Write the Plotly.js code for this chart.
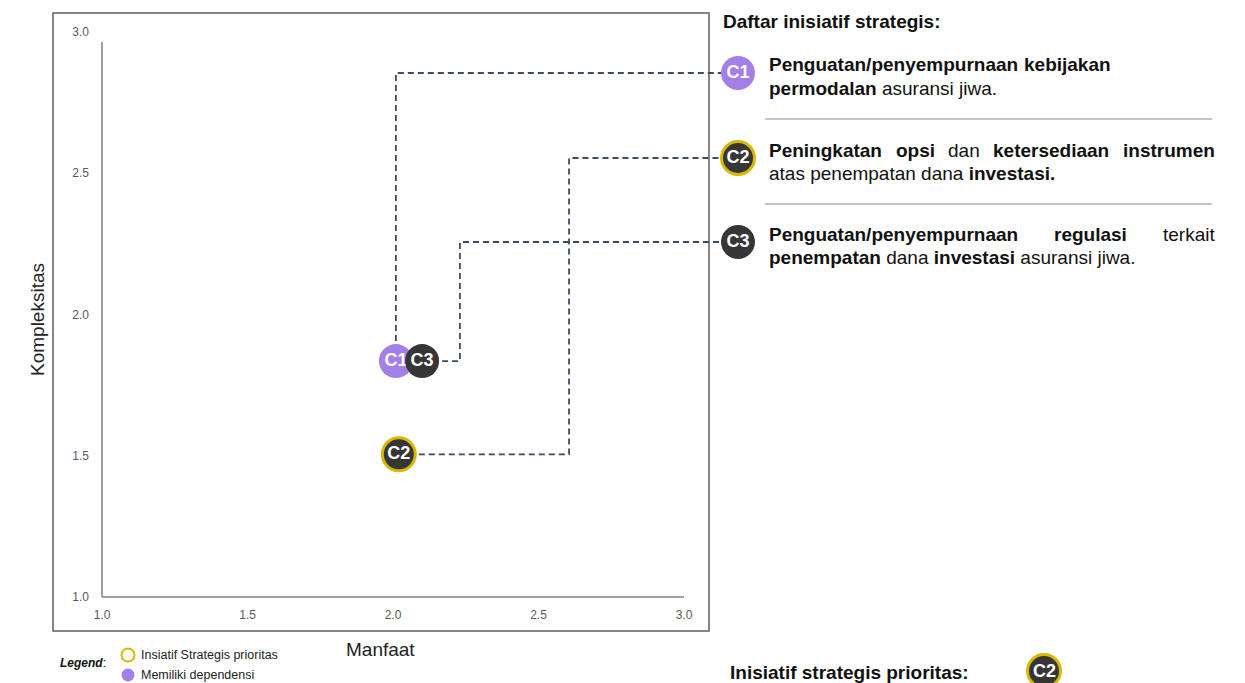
<!DOCTYPE html>
<html>
<head>
<meta charset="utf-8">
<script src="https://cdn.plot.ly/plotly-3.0.1.min.js"></script>
<style>
  html, body { margin: 0; padding: 0; background: #fff; }
  #chart { width: 1245px; height: 683px; }
</style>
</head>
<body>
<div id="chart"></div>
<script>
// ---------------- DATA ----------------
const ids = ['C1', 'C2', 'C3'];
const manfaat = [2.01, 2.02, 2.10];        // x: Manfaat
const kompleksitas = [1.835, 1.505, 1.835]; // y: Kompleksitas
const isPriority = [false, true, false];
const hasDependency = [true, false, false];
const xTickVals = [1.0, 1.5, 2.0, 2.5, 3.0];
const xTickText = ['1.0', '1.5', '2.0', '2.5', '3.0'];
const yTickVals = [1.0, 1.5, 2.0, 2.5, 3.0];
const yTickText = ['1.0', '1.5', '2.0', '2.5', '3.0'];
const descLine1 = [
  [['Penguatan/penyempurnaan', true], ['kebijakan', true]],
  [['Peningkatan', true], ['opsi', true], ['dan', false], ['ketersediaan', true], ['instrumen', true]],
  [['Penguatan/penyempurnaan', true], ['regulasi', true], ['terkait', false]]
];
const descLine2 = [
  '<b>permodalan</b> asuransi jiwa.',
  'atas penempatan dana <b>investasi.</b>',
  '<b>penempatan</b> dana <b>investasi</b> asuransi jiwa.'
];
const priorityIds = ['C2'];

// ---------------- LAYOUT / STYLE ----------------
const W = 1245, H = 683;
const L = 102, T = 32, PW = 658, PH = 565;
const X_AT_3 = 684;                        // pixel where x=3.0 sits
const xMax = 1 + 2 * PW / (X_AT_3 - L);
const FONT = 'Liberation Sans, Arial, sans-serif';
const PURPLE = '#a47fe8', DARK = '#363636', GOLD = '#d8b800', DASH = '#3c4c60';

const pxX = px => 1 + (px - L) * (xMax - 1) / PW;
const pxY = py => 1 + (T + PH - py) * 2 / PH;
const ppX = px => (px - L) / PW;
const ppY = py => (T + PH - py) / PH;

// list rows (pixel), connector end and elbows (data x, null = vertical from point)
const rowY = [73, 158, 242];
const badgeX = 738, connEndX = 722;
const elbowX = [null, 2.605, 2.23];
const line1End = [1110, 1214, 1214];
const textX = 768;
const lineOffsets = [-8, 15];
const BODY = 19;

// ---------------- TRACES ----------------
const traces = [];
ids.forEach((id, i) => {
  const x0 = manfaat[i], y0 = kompleksitas[i], yr = pxY(rowY[i]);
  let xs, ys;
  if (elbowX[i] === null) { xs = [x0, x0, pxX(connEndX)]; ys = [y0, yr, yr]; }
  else { xs = [x0, elbowX[i], elbowX[i], pxX(connEndX)]; ys = [y0, y0, yr, yr]; }
  traces.push({
    type: 'scatter', mode: 'lines', x: xs, y: ys, hoverinfo: 'skip', showlegend: false,
    line: { color: DASH, width: 1.8, dash: '6px,4px' }
  });
});

function markerStyle(i) {
  return {
    size: isPriority[i] ? 33 : 34,
    color: hasDependency[i] ? PURPLE : DARK,
    line: { color: isPriority[i] ? GOLD : 'rgba(0,0,0,0)', width: isPriority[i] ? 3 : 0 }
  };
}
const order = [0, 2, 1];
order.forEach(i => {
  const m = markerStyle(i); m.opacity = 1;
  traces.push({
    type: 'scatter', mode: 'markers+text', x: [manfaat[i]], y: [kompleksitas[i]],
    text: ['<b>' + ids[i] + '</b>'], textposition: 'middle center',
    textfont: { family: FONT, size: 18, color: '#ffffff' },
    marker: m, showlegend: false, name: ids[i], cliponaxis: false
  });
});
// list badges
traces.push({
  type: 'scatter', mode: 'markers+text',
  x: ids.map(() => pxX(badgeX)), y: rowY.map(pxY),
  text: ids.map(t => '<b>' + t + '</b>'), textposition: 'middle center',
  textfont: { family: FONT, size: 18, color: '#ffffff' },
  marker: {
    opacity: 1,
    size: ids.map((_, i) => markerStyle(i).size),
    color: ids.map((_, i) => markerStyle(i).color),
    line: { color: ids.map((_, i) => markerStyle(i).line.color), width: ids.map((_, i) => markerStyle(i).line.width) }
  },
  showlegend: false, hoverinfo: 'skip', cliponaxis: false
});

// ---------------- ANNOTATIONS ----------------
const ctx = document.createElement('canvas').getContext('2d');
function measure(t, bold) {
  ctx.font = (bold ? 'bold ' : '') + BODY + 'px "Liberation Sans", Arial, sans-serif';
  return ctx.measureText(t).width;
}
const ann = [];
function txt(text, px, py, size, anchor, extra) {
  ann.push(Object.assign({
    xref: 'paper', yref: 'paper', x: ppX(px), y: ppY(py), text: text, showarrow: false,
    xanchor: anchor || 'left', yanchor: 'middle', borderpad: 0,
    font: { family: FONT, size: size, color: '#111111' }
  }, extra || {}));
}
txt('<b>Daftar inisiatif strategis:</b>', 722, 21, 19);
descLine1.forEach((words, i) => {
  const widths = words.map(w => measure(w[0], w[1]));
  const total = widths.reduce((a, b) => a + b, 0);
  const gap = (line1End[i] - textX - total) / (words.length - 1);
  let x = textX;
  words.forEach((w, k) => {
    txt(w[1] ? '<b>' + w[0] + '</b>' : w[0], x, rowY[i] + lineOffsets[0], BODY);
    x += widths[k] + gap;
  });
  txt(descLine2[i], textX, rowY[i] + lineOffsets[1], BODY);
});
txt('<b>Inisiatif strategis prioritas:</b>', 729, 672, 19);
// priority badge label (badge circle drawn as a shape below)
const prioBadge = { cx: 1044, cy: 671, r: 16.5 };
priorityIds.forEach(id => {
  txt('<b>' + id + '</b>', prioBadge.cx, prioBadge.cy, 18, 'center', { font: { family: FONT, size: 18, color: '#ffffff' } });
});
txt('Kompleksitas', 37, 320, 19, 'center', { textangle: -90, font: { family: FONT, size: 19, color: '#222' } });
txt('Manfaat', 380, 649, 19, 'center', { font: { family: FONT, size: 19, color: '#222' } });
txt('<b><i>Legend</i></b>:', 59, 663, 12);
txt('Insiatif Strategis prioritas', 140, 655, 12.5, 'left', { font: { family: FONT, size: 12.5, color: '#222' } });
txt('Memiliki dependensi', 140, 675, 12.5, 'left', { font: { family: FONT, size: 12.5, color: '#222' } });

// ---------------- SHAPES ----------------
const shapes = [
  { type: 'rect', xref: 'paper', yref: 'paper', x0: ppX(53), x1: ppX(709), y0: ppY(631), y1: ppY(13),
    line: { color: '#5f5f5f', width: 1.5 }, layer: 'below' },
  { type: 'line', xref: 'x', yref: 'paper', x0: 1, x1: 3, y0: 0, y1: 0,
    line: { color: '#808080', width: 1.5 }, layer: 'below' },
  { type: 'line', xref: 'paper', yref: 'y', x0: 0, x1: 0, y0: 1, y1: pxY(42),
    line: { color: '#808080', width: 1.5 }, layer: 'below' },
  { type: 'line', xref: 'paper', yref: 'paper', x0: ppX(765), x1: ppX(1212), y0: ppY(119), y1: ppY(119),
    line: { color: '#8a8a8a', width: 1 } },
  { type: 'line', xref: 'paper', yref: 'paper', x0: ppX(765), x1: ppX(1212), y0: ppY(204), y1: ppY(204),
    line: { color: '#8a8a8a', width: 1 } },
  { type: 'circle', xref: 'paper', yref: 'paper', x0: ppX(121.5), x1: ppX(134.5), y0: ppY(661.5), y1: ppY(648.5),
    line: { color: GOLD, width: 2 }, fillcolor: 'rgba(0,0,0,0)' },
  { type: 'circle', xref: 'paper', yref: 'paper', x0: ppX(121.5), x1: ppX(134.5), y0: ppY(681.5), y1: ppY(668.5),
    line: { color: PURPLE, width: 0 }, fillcolor: PURPLE },
  { type: 'circle', xref: 'paper', yref: 'paper',
    x0: ppX(prioBadge.cx - prioBadge.r), x1: ppX(prioBadge.cx + prioBadge.r),
    y0: ppY(prioBadge.cy + prioBadge.r), y1: ppY(prioBadge.cy - prioBadge.r),
    line: { color: GOLD, width: 3 }, fillcolor: DARK }
];

const layout = {
  width: W, height: H,
  margin: { l: L, r: W - L - PW, t: T, b: H - T - PH, pad: 0 },
  paper_bgcolor: '#ffffff', plot_bgcolor: 'rgba(0,0,0,0)',
  font: { family: FONT, color: '#222' },
  showlegend: false,
  xaxis: {
    range: [1, xMax], tickvals: xTickVals, ticktext: xTickText,
    showgrid: false, zeroline: false, showline: false, ticks: '',
    ticklabelstandoff: 9, tickfont: { family: FONT, size: 12, color: '#595959' }, fixedrange: true
  },
  yaxis: {
    range: [1, 3], tickvals: yTickVals, ticktext: yTickText,
    showgrid: false, zeroline: false, showline: false, ticks: '',
    ticklabelstandoff: 12, tickfont: { family: FONT, size: 12, color: '#595959' }, fixedrange: true
  },
  shapes: shapes,
  annotations: ann
};

Plotly.newPlot('chart', traces, layout, { displayModeBar: false, staticPlot: true });
</script>
</body>
</html>
